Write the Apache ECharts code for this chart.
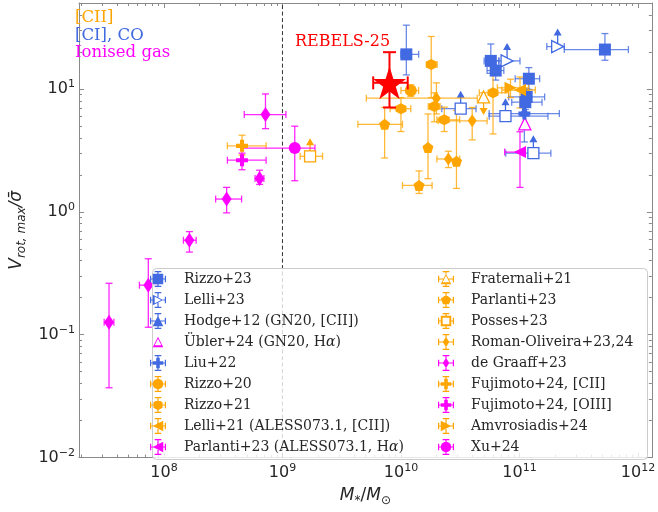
<!DOCTYPE html>
<html><head><meta charset="utf-8">
<script src="https://cdn.jsdelivr.net/npm/echarts@6/dist/echarts.min.js"></script>
<style>html,body{margin:0;padding:0;background:#fff}#c{width:658px;height:512px}</style>
</head><body><div id="c"></div>
<script>
// ---------------- DATA (M*, V/sigma, Mlo, Mhi, Vlo, Vhi, limit: 1=lower limit, -1=upper limit) ----------------
const xTickExp = [8, 9, 10, 11, 12];
const yTickExp = [-2, -1, 0, 1];
const mLimit = 1e9;

const rizzo23 = [
  [1.11e10, 19.1, 1.0e10, 1.41e10, 13.0, 33.0, 0],
  [5.73e10, 16.9, 5.03e10, 6.7e10, 13.4, 23.2, 0],
  [6.3e10, 14.1, 5.33e10, 7.38e10, 11.8, 17.0, 0],
  [1.20e11, 12.1, 9.2e10, 1.48e11, 9.9, 14.9, 0],
  [1.15e11, 8.6, 8.1e10, 1.63e11, 7.5, 10.0, 0],
  [1.12e11, 7.8, 8.6e10, 1.55e11, 6.8, 9.1, 0],
  [5.26e11, 20.9, 2.39e11, 8.3e11, 17.1, 28.2, 0]
];
const rizzo23Lim = [
  [3.19e10, 6.9, 2.21e10, 4.3e10, null, null, 1],
  [7.62e10, 6.0, 5.55e10, 1.74e11, null, null, 1],
  [1.31e11, 3.0, 7.66e10, 1.84e11, null, null, 1]
];
const lelli23 = [
  [7.86e10, 16.9, 6.7e10, 1.01e11, null, null, 1],
  [2.10e11, 22.1, 1.70e11, 2.39e11, null, null, 1]
];
const hodge12 = [[1.10e11, 6.6, null, null, null, null, 0]];
const ubler24 = [[1.11e11, 5.2, null, null, null, null, 0]];
const liu22 = [[1.10e11, 6.3, 5.55e10, 2.17e11, 3.7, 7.1, 0]];
const rizzo20 = [[1.21e10, 9.7, 1.0e10, 1.41e10, 8.7, 10.8, 0]];
const rizzo21 = [
  [1.80e10, 15.8, 1.67e10, 2.02e10, 8.5, 26.7, 0],
  [1.0e10, 6.9, 8.1e9, 1.21e10, 4.5, 8.5, 0],
  [1.91e10, 7.2, 1.7e10, 2.14e10, 5.4, 9.3, 0],
  [2.32e10, 5.6, 2.01e10, 3.13e10, 4.5, 7.1, 0],
  [5.98e10, 9.3, 4.58e10, 8.1e10, 4.3, 15.2, 0]
];
const lelli21 = [[1.01e11, 9.8, 7.1e10, 1.36e11, 7.0, 12.5, 0]];
const parlanti23Ha = [[1.01e11, 3.06, 7.5e10, 1.12e11, 1.58, 4.48, 0]];
const fraternali21 = [[4.98e10, 8.6, null, null, null, null, -1]];
const parlanti23 = [
  [7.28e9, 5.15, 4.33e9, 1.03e10, 2.74, 7.07, 0],
  [1.69e10, 3.33, null, null, 1.86, 6.25, 0],
  [2.94e10, 2.58, null, null, 1.55, 6.68, 0],
  [1.42e10, 1.64, 1.03e10, 1.83e10, 1.41, 2.15, 0]
];
const posses23 = [[1.71e9, 2.83, 1.41e9, 2.18e9, null, null, 1]];
const romanOliveira = [
  [1.99e10, 8.4, 5.1e9, 4.4e10, 6.25, 11.2, 0],
  [3.99e10, 5.5, 2.06e10, 5.33e10, 3.85, 7.06, 0],
  [2.51e10, 2.69, 2.01e10, 3.13e10, 2.29, 3.11, 0]
];
const deGraaff23 = [
  [3.44e7, 0.126, 3.13e7, 3.78e7, 0.037, 0.262, 0],
  [7.38e7, 0.253, 6.21e7, 8.75e7, 0.115, 0.415, 0],
  [1.64e8, 0.587, 1.46e8, 1.87e8, 0.47, 0.69, 0],
  [3.38e8, 1.27, 2.73e8, 4.52e8, 0.98, 1.58, 0],
  [6.41e8, 1.87, 5.87e8, 6.97e8, 1.67, 2.18, 0],
  [7.19e8, 6.18, 4.76e8, 1.07e9, 4.75, 9.1, 0]
];
const fujimotoCII = [[4.56e8, 3.44, 3.43e8, 7.28e8, 2.9, 4.2, 0]];
const fujimotoOIII = [[4.56e8, 2.63, 3.43e8, 7.28e8, 2.2, 3.0, 0]];
const amvrosiadis24 = [[8.4e10, 10.2, 6.5e10, 1.19e11, 8.5, 12.0, 0]];
const xu24 = [[1.27e9, 3.3, 4.61e8, 1.88e9, 1.79, 4.97, 0]];
const rebels25 = [[8.0e9, 11.2, 5.83e9, 1.14e10, 7.06, 19.9, 0]];

const legendCol1 = ['Rizzo+23', 'Lelli+23', 'Hodge+12 (GN20, [CII])', 'Übler+24 (GN20, Hα)', 'Liu+22',
  'Rizzo+20', 'Rizzo+21', 'Lelli+21 (ALESS073.1, [CII])', 'Parlanti+23 (ALESS073.1, Hα)'];
const legendCol2 = ['Fraternali+21', 'Parlanti+23', 'Posses+23', 'Roman-Oliveira+23,24', 'de Graaff+23',
  'Fujimoto+24, [CII]', 'Fujimoto+24, [OIII]', 'Amvrosiadis+24', 'Xu+24'];

// ---------------- STYLE ----------------
const ORANGE = '#FFA500', BLUE = '#4169E1', MAG = '#FF00FF', RED = '#FF0000';
const circPts = [];
for (let i = 0; i < 24; i++) { const a = -Math.PI / 2 + i * 2 * Math.PI / 24; circPts.push([Math.cos(a), Math.sin(a)]); }
const POLY = {
  rect: [[-1, -1], [1, -1], [1, 1], [-1, 1]],
  tri: [[0, -1], [1, 1], [-1, 1]],
  triR: [[-1, -1], [1, 0], [-1, 1]],
  triL: [[1, -1], [1, 1], [-1, 0]],
  diamond: [[0, -1], [0.62, 0], [0, 1], [-0.62, 0]],
  circle: circPts,
  hex: [[0, -1], [0.866, -0.5], [0.866, 0.5], [0, 1], [-0.866, 0.5], [-0.866, -0.5]],
  pent: [[0, -1], [0.951, -0.309], [0.588, 0.809], [-0.588, 0.809], [-0.951, -0.309]],
  plus: [[-1, -0.34], [-0.34, -0.34], [-0.34, -1], [0.34, -1], [0.34, -0.34], [1, -0.34], [1, 0.34], [0.34, 0.34], [0.34, 1], [-0.34, 1], [-0.34, 0.34], [-1, 0.34]],
  star: [[0, -1], [0.2245, -0.309], [0.951, -0.309], [0.363, 0.118], [0.588, 0.809], [0, 0.382], [-0.588, 0.809], [-0.363, 0.118], [-0.951, -0.309], [-0.2245, -0.309]]
};
const f3 = v => (+v).toFixed(3);
const polyPath = pts => 'M' + pts.map(p => f3(p[0]) + ',' + f3(p[1])).join(' L') + ' Z';
const area = pts => { let s = 0; for (let i = 0; i < pts.length; i++) { const a = pts[i], b = pts[(i + 1) % pts.length]; s += a[0] * b[1] - b[0] * a[1]; } return s; };
const cw = pts => (area(pts) > 0 ? pts : pts.slice().reverse());
const rectPath = (x0, y0, x1, y1) => `M${f3(x0)},${f3(y0)} L${f3(x1)},${f3(y0)} L${f3(x1)},${f3(y1)} L${f3(x0)},${f3(y1)} Z`;
function rayHit(poly, dx, dy) {
  let best = Infinity;
  for (let i = 0; i < poly.length; i++) {
    const [x1, y1] = poly[i], [x2, y2] = poly[(i + 1) % poly.length];
    const ex = x2 - x1, ey = y2 - y1, den = dx * ey - dy * ex;
    if (Math.abs(den) < 1e-9) continue;
    const t = (x1 * ey - ex * y1) / den, u = (x1 * dy - y1 * dx) / den;
    if (t > 0 && u >= -1e-9 && u <= 1 + 1e-9) best = Math.min(best, t);
  }
  return best;
}
function symbolOf(shape) { return shape === 'circle' ? 'circle' : 'path://' + polyPath(POLY[shape]); }
function legendIcon(shape, open, bars) {
  const poly = POLY[shape], s = 0.66, parts = [];
  parts.push(polyPath(cw(poly.map(p => [p[0] * s, p[1] * s]))));
  if (open) { const k = s - 0.24; parts.push(polyPath(cw(poly.map(p => [p[0] * k, p[1] * k])).reverse())); }
  if (bars) {
    const t = 0.075, E = 0.93, c = 0.42;
    [[1, 0], [-1, 0], [0, 1], [0, -1]].forEach(([dx, dy]) => {
      const st = open ? rayHit(poly, dx, dy) * s : 0;
      if (dx) {
        parts.push(rectPath(Math.min(dx * st, dx * E), -t, Math.max(dx * st, dx * E), t));
        parts.push(rectPath(dx * E - t, -c, dx * E + t, c));
      } else {
        parts.push(rectPath(-t, Math.min(dy * st, dy * E), t, Math.max(dy * st, dy * E)));
        parts.push(rectPath(-c, dy * E - t, c, dy * E + t));
      }
    });
  } else {
    parts.push('M-1,-1 L-0.999,-1 L-1,-0.999 Z M1,1 L0.999,1 L1,0.999 Z');
  }
  return 'path://' + parts.join(' ');
}

const defs = [
  {name: 'Rizzo+23', data: rizzo23, shape: 'rect', size: 12, color: BLUE},
  {name: 'Rizzo+23', data: rizzo23Lim, shape: 'rect', size: 11, color: BLUE, open: true, noLegend: true},
  {name: 'Lelli+23', data: lelli23, shape: 'triR', size: 12, color: BLUE, open: true},
  {name: 'Hodge+12 (GN20, [CII])', data: hodge12, shape: 'tri', size: 11, color: BLUE},
  {name: 'Übler+24 (GN20, Hα)', data: ubler24, shape: 'tri', size: 12, color: MAG, open: true, noBars: true},
  {name: 'Liu+22', data: liu22, shape: 'plus', size: 12, color: BLUE},
  {name: 'Rizzo+20', data: rizzo20, shape: 'circle', size: 12, color: ORANGE},
  {name: 'Rizzo+21', data: rizzo21, shape: 'hex', size: 11, color: ORANGE},
  {name: 'Lelli+21 (ALESS073.1, [CII])', data: lelli21, shape: 'triL', size: 12, color: ORANGE},
  {name: 'Parlanti+23 (ALESS073.1, Hα)', data: parlanti23Ha, shape: 'triL', size: 12, color: MAG},
  {name: 'Fraternali+21', data: fraternali21, shape: 'tri', size: 12, color: ORANGE, open: true},
  {name: 'Parlanti+23', data: parlanti23, shape: 'pent', size: 11, color: ORANGE},
  {name: 'Posses+23', data: posses23, shape: 'rect', size: 11, color: ORANGE, open: true},
  {name: 'Roman-Oliveira+23,24', data: romanOliveira, shape: 'diamond', size: [9, 13], color: ORANGE},
  {name: 'de Graaff+23', data: deGraaff23, shape: 'diamond', size: [10, 15], color: MAG},
  {name: 'Fujimoto+24, [CII]', data: fujimotoCII, shape: 'plus', size: 12, color: ORANGE},
  {name: 'Fujimoto+24, [OIII]', data: fujimotoOIII, shape: 'plus', size: 12, color: MAG},
  {name: 'Amvrosiadis+24', data: amvrosiadis24, shape: 'triR', size: 12, color: ORANGE},
  {name: 'Xu+24', data: xu24, shape: 'circle', size: 12, color: MAG},
  {name: 'REBELS-25', data: rebels25, shape: 'star', size: 33, color: RED, lw: 2, cap: 6.5, z: 6, noLegend: true}
];
const barColor = {[ORANGE]: 'rgba(255,165,0,0.78)', [BLUE]: 'rgba(65,105,225,0.78)', [MAG]: 'rgba(255,0,255,0.85)', [RED]: RED};

const L10 = Math.log10;
const lg = v => (v == null ? -99 : L10(v));
const toLog = rows => rows.map(r => [L10(r[0]), L10(r[1]), lg(r[2]), lg(r[3]), lg(r[4]), lg(r[5]), r[6] || 0]);

const XMIN = 7.283, XMAX = 12.117, YMIN = -2, YMAX = L10(50);

function makeErr(color, arrowColor, lw, cap) {
  return function (params, api) {
    const v = i => api.value(i);
    const p = api.coord([v(0), v(1)]);
    const ch = [];
    const st = {stroke: color, lineWidth: lw};
    const L = (x1, y1, x2, y2) => ch.push({type: 'line', shape: {x1, y1, x2, y2}, style: st});
    if (v(2) > -50) {
      const a = api.coord([v(2), v(1)]), b = api.coord([v(3), v(1)]);
      L(a[0], p[1], b[0], p[1]); L(a[0], p[1] - cap, a[0], p[1] + cap); L(b[0], p[1] - cap, b[0], p[1] + cap);
    }
    if (v(4) > -50) {
      const a = api.coord([v(0), v(4)]), b = api.coord([v(0), v(5)]);
      L(p[0], a[1], p[0], b[1]); L(p[0] - cap, a[1], p[0] + cap, a[1]); L(p[0] - cap, b[1], p[0] + cap, b[1]);
    }
    const lim = v(6);
    if (lim) {
      const d = -lim;
      ch.push({type: 'line', shape: {x1: p[0], y1: p[1], x2: p[0], y2: p[1] + d * 12}, style: {stroke: arrowColor, lineWidth: 1.3}});
      ch.push({type: 'polygon', shape: {points: [[p[0], p[1] + d * 18], [p[0] - 4, p[1] + d * 11], [p[0] + 4, p[1] + d * 11]]}, style: {fill: arrowColor}});
    }
    return {type: 'group', children: ch};
  };
}

const series = [];
defs.forEach(d => {
  series.push({
    type: 'scatter', name: d.name, data: toLog(d.data).map(r => [r[0], r[1]]),
    symbol: symbolOf(d.shape), symbolSize: d.size, silent: true, animation: false, z: d.z || 4,
    itemStyle: d.open ? {color: '#ffffff', borderColor: d.color, borderWidth: 1.3, opacity: 1} : {color: d.color, opacity: 1}
  });
});
defs.forEach(d => {
  series.push({
    type: 'custom', name: d.name, data: toLog(d.data), clip: false, silent: true, animation: false, z: d.z ? d.z - 1 : 3,
    renderItem: makeErr(barColor[d.color], d.color, d.lw || 1.3, d.cap || 3.5)
  });
});
// dashed reference line at M* = 1e9
series.push({
  type: 'custom', name: 'ref', data: [[L10(mLimit)]], silent: true, animation: false, z: 2, clip: false,
  renderItem: (params, api) => {
    const a = api.coord([api.value(0), YMIN]), b = api.coord([api.value(0), YMAX]);
    return {type: 'line', shape: {x1: a[0], y1: a[1], x2: b[0], y2: b[1]}, style: {stroke: '#333', lineWidth: 1, lineDash: [4, 2.5]}};
  }
});

function minorVals(lo, hi) {
  const out = [];
  for (let n = Math.floor(lo) - 1; n <= Math.ceil(hi); n++)
    for (let k = 2; k <= 9; k++) { const v = n + L10(k); if (v > lo && v < hi) out.push(v); }
  return out;
}
const xMinor = minorVals(XMIN, XMAX), yMinor = minorVals(YMIN, YMAX);
const FRAME = '#8a8a8a';
const TXT = '#262626';
const supFmt = v => '10{s|' + (v < 0 ? '\u2212' + Math.abs(v) : v) + '}';
const labelRich = {s: {fontSize: 11, fontFamily: 'DejaVu Sans', color: TXT, verticalAlign: 'top', lineHeight: 20}};

function xAx(pos, vals, len, labels, line) {
  return {
    type: 'value', min: XMIN, max: XMAX, position: pos, gridIndex: 0,
    axisLine: {show: line, onZero: false, lineStyle: {color: FRAME, width: 1}},
    axisTick: {show: true, inside: true, length: len, customValues: vals, lineStyle: {color: FRAME}},
    axisLabel: labels ? {show: true, customValues: xTickExp, formatter: supFmt, color: TXT, fontSize: 16,
      fontFamily: 'DejaVu Sans', margin: 5, lineHeight: 20, rich: labelRich} : {show: false},
    splitLine: {show: false}, minorTick: {show: false}
  };
}
function yAx(pos, vals, len, labels, line) {
  return {
    type: 'value', min: YMIN, max: YMAX, position: pos, gridIndex: 0,
    axisLine: {show: line, onZero: false, lineStyle: {color: FRAME, width: 1}},
    axisTick: {show: true, inside: true, length: len, customValues: vals, lineStyle: {color: FRAME}},
    axisLabel: labels ? {show: true, customValues: yTickExp, formatter: supFmt, color: TXT, fontSize: 16,
      fontFamily: 'DejaVu Sans', margin: 4, lineHeight: 20, rich: labelRich} : {show: false},
    splitLine: {show: false}, minorTick: {show: false}
  };
}
const xAxes = [xAx('bottom', xTickExp, 5, true, true), xAx('bottom', xMinor, 3, false, false),
  xAx('top', xTickExp, 5, false, true), xAx('top', xMinor, 3, false, false)];
xAxes[0].name = '{i|M}{s|*}{n|/}{i|M}{s|\u2299}';
xAxes[0].nameLocation = 'middle';
xAxes[0].nameGap = 24;
xAxes[0].nameTextStyle = {fontSize: 17, color: TXT, fontFamily: 'DejaVu Sans', rich: {
  i: {fontStyle: 'italic', fontSize: 17, fontFamily: 'DejaVu Sans', color: TXT, lineHeight: 22, verticalAlign: 'middle'},
  n: {fontSize: 17, fontFamily: 'DejaVu Sans', color: TXT, lineHeight: 22, verticalAlign: 'middle'},
  s: {fontSize: 12, fontFamily: 'DejaVu Sans', color: TXT, lineHeight: 22, verticalAlign: 'bottom'}}};
const yAxes = [yAx('left', yTickExp, 5, true, true), yAx('left', yMinor, 3, false, false),
  yAx('right', yTickExp, 5, false, true), yAx('right', yMinor, 3, false, false)];
yAxes[0].name = '{i|V}{s|rot, max}{i|/\u03C3\u0304}';
yAxes[0].nameLocation = 'middle';
yAxes[0].nameRotate = 90;
yAxes[0].nameGap = 42;
yAxes[0].nameTextStyle = {fontSize: 17, color: TXT, fontFamily: 'DejaVu Sans', rich: {
  i: {fontStyle: 'italic', fontSize: 17, fontFamily: 'DejaVu Sans', color: TXT, lineHeight: 22, verticalAlign: 'middle'},
  s: {fontStyle: 'italic', fontSize: 12, fontFamily: 'DejaVu Sans', color: TXT, lineHeight: 22, verticalAlign: 'bottom'}}};

const defByName = {};
defs.forEach(d => { if (!d.noLegend && !defByName[d.name]) defByName[d.name] = d; });
const legendItems = names => names.map(n => {
  const d = defByName[n];
  return {name: n, icon: legendIcon(d.shape, !!d.open, !d.noBars), itemStyle: {color: d.color, borderWidth: 0, borderColor: 'transparent', opacity: 1}};
});
const legendBase = {
  orient: 'vertical', top: 271, itemGap: 5, itemHeight: 16, padding: 0, z: 20, selectedMode: false,
  textStyle: {fontFamily: 'DejaVu Serif', fontSize: 14, color: TXT, lineHeight: 16,
    rich: {a: {fontStyle: 'italic', fontFamily: 'DejaVu Serif', fontSize: 14, color: TXT}}},
  formatter: n => n.replace('Hα', 'H{a|α}')
};

const option = {
  backgroundColor: '#ffffff',
  animation: false,
  grid: {left: 72, right: 1.5, top: 3, bottom: 43, containLabel: false},
  xAxis: xAxes,
  yAxis: yAxes,
  legend: [
    Object.assign({}, legendBase, {left: 150, itemWidth: 42, data: legendItems(legendCol1)}),
    Object.assign({}, legendBase, {left: 438, itemWidth: 40, data: legendItems(legendCol2)})
  ],
  graphic: {elements: [
    {type: 'rect', shape: {x: 152.5, y: 268.5, width: 495, height: 191, r: 4}, style: {fill: 'rgba(255,255,255,0.8)', stroke: '#cccccc', lineWidth: 1}, z: 15, silent: true},
    {type: 'text', x: 75, y: 18, style: {text: '[CII]', fill: ORANGE, fontSize: 16.5, fontFamily: 'DejaVu Serif', verticalAlign: 'middle'}, z: 15},
    {type: 'text', x: 75, y: 35.5, style: {text: '[CI], CO', fill: BLUE, fontSize: 16.5, fontFamily: 'DejaVu Serif', verticalAlign: 'middle'}, z: 15},
    {type: 'text', x: 75, y: 53, style: {text: 'Ionised gas', fill: MAG, fontSize: 16.5, fontFamily: 'DejaVu Serif', verticalAlign: 'middle'}, z: 15},
    {type: 'text', x: 295, y: 42, style: {text: 'REBELS-25', fill: RED, fontSize: 16, fontFamily: 'DejaVu Serif', verticalAlign: 'middle'}, z: 15}
  ]},
  series: series
};
const chart = echarts.init(document.getElementById('c'), null, {renderer: 'canvas'});
chart.setOption(option);
</script>
</body></html>
